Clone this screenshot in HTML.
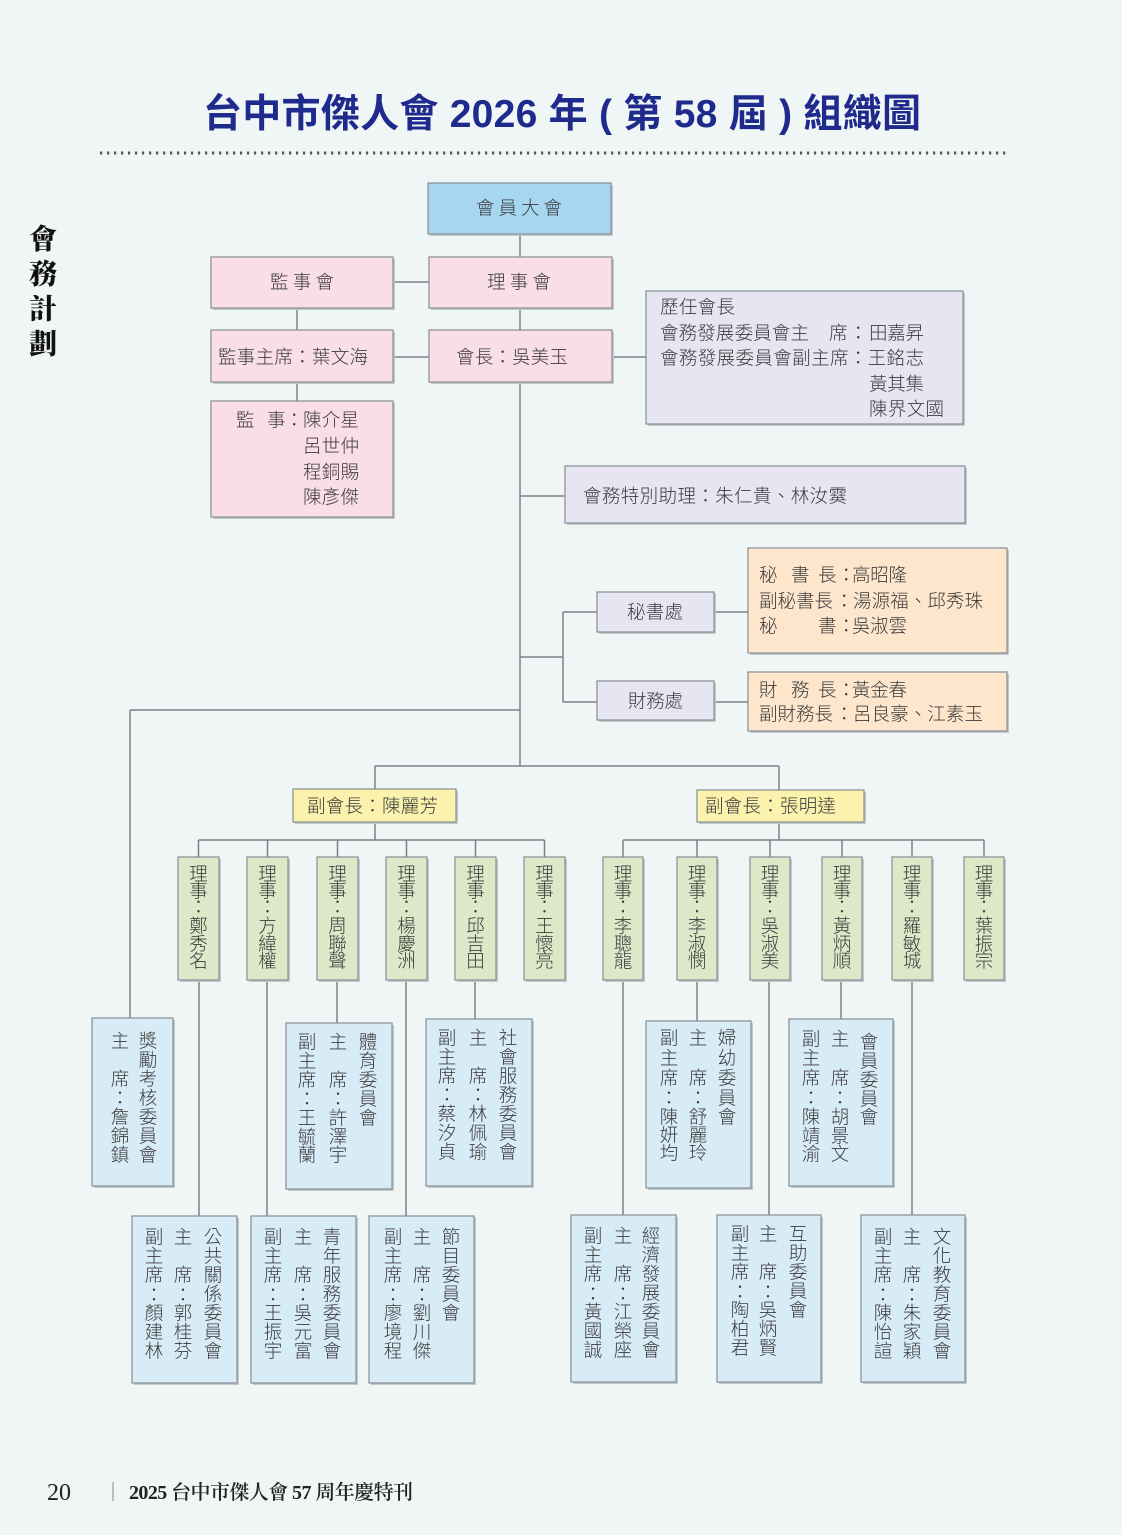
<!DOCTYPE html>
<html><head><meta charset="utf-8"><style>
html,body{margin:0;padding:0;background:#f0f5f6;}
svg{display:block;}
.t{font-family:"Liberation Sans","Noto Sans CJK TC",sans-serif;font-size:18.5px;fill:#3b3b3b;font-weight:300;dominant-baseline:central;}
.v{font-family:"Liberation Sans","Noto Sans CJK TC",sans-serif;font-size:18.5px;fill:#3b3b3b;font-weight:300;dominant-baseline:central;text-anchor:middle;}
.ln{stroke:#7b8186;stroke-width:1.5;fill:none;}
.bx{stroke:#868e93;stroke-width:1.2;}
.sh{fill:#c3c8cb;}
</style></head><body>
<svg width="1122" height="1535" viewBox="0 0 1122 1535" xmlns="http://www.w3.org/2000/svg">
<rect x="0" y="0" width="1122" height="1535" fill="#f0f5f6"/>

<!-- title -->
<text x="203" y="127" textLength="718" lengthAdjust="spacing" style="font-family:'Liberation Sans','Noto Sans CJK TC',sans-serif;font-size:39px;font-weight:700;fill:#1f2b8c;">台中市傑人會 2026 年 ( 第 58 屆 ) 組織圖</text>
<line x1="100" y1="153" x2="1006" y2="153" stroke="#555" stroke-width="3" stroke-dasharray="2.2 4.8"/>

<!-- side title -->
<g style="font-family:'Liberation Serif','Noto Serif CJK SC',serif;font-size:28px;font-weight:900;fill:#111;dominant-baseline:central;text-anchor:middle;">
<text x="43" y="240">會</text><text x="43" y="275">務</text><text x="43" y="310">計</text><text x="43" y="345">劃</text>
</g>

<!-- connectors -->
<g class="ln">
<line x1="520" y1="234" x2="520" y2="257"/>
<line x1="520" y1="308" x2="520" y2="330"/>
<line x1="520" y1="382" x2="520" y2="766"/>
<line x1="393" y1="282" x2="429" y2="282"/>
<line x1="297" y1="308" x2="297" y2="330"/>
<line x1="393" y1="357" x2="429" y2="357"/>
<line x1="297" y1="382" x2="297" y2="401"/>
<line x1="612" y1="357" x2="646" y2="357"/>
<line x1="520" y1="496" x2="565" y2="496"/>
<line x1="520" y1="657" x2="563" y2="657"/>
<line x1="563" y1="612" x2="563" y2="702"/>
<line x1="563" y1="612" x2="597" y2="612"/>
<line x1="563" y1="702" x2="597" y2="702"/>
<line x1="714" y1="612" x2="748" y2="612"/>
<line x1="714" y1="702" x2="748" y2="702"/>
<line x1="130" y1="710" x2="520" y2="710"/>
<line x1="130" y1="710" x2="130" y2="1018"/>
<line x1="375" y1="766" x2="779" y2="766"/>
<line x1="375" y1="766" x2="375" y2="789"/>
<line x1="779" y1="766" x2="779" y2="790"/>
<line x1="375" y1="822" x2="375" y2="840"/>
<line x1="779" y1="822" x2="779" y2="840"/>
<line x1="198.5" y1="840" x2="544.5" y2="840"/>
<line x1="623" y1="840" x2="984" y2="840"/>
<line x1="198.5" y1="840" x2="198.5" y2="857"/>
<line x1="267.5" y1="840" x2="267.5" y2="857"/>
<line x1="337.5" y1="840" x2="337.5" y2="857"/>
<line x1="406.5" y1="840" x2="406.5" y2="857"/>
<line x1="475.5" y1="840" x2="475.5" y2="857"/>
<line x1="544.5" y1="840" x2="544.5" y2="857"/>
<line x1="623" y1="840" x2="623" y2="857"/>
<line x1="697" y1="840" x2="697" y2="857"/>
<line x1="770" y1="840" x2="770" y2="857"/>
<line x1="842" y1="840" x2="842" y2="857"/>
<line x1="912" y1="840" x2="912" y2="857"/>
<line x1="984" y1="840" x2="984" y2="857"/>
<line x1="199" y1="980" x2="199" y2="1216"/>
<line x1="267" y1="980" x2="267" y2="1216"/>
<line x1="337" y1="980" x2="337" y2="1023"/>
<line x1="406" y1="980" x2="406" y2="1216"/>
<line x1="475" y1="980" x2="475" y2="1019"/>
<line x1="623" y1="980" x2="623" y2="1215"/>
<line x1="697" y1="980" x2="697" y2="1021"/>
<line x1="769" y1="980" x2="769" y2="1215"/>
<line x1="841" y1="980" x2="841" y2="1019"/>
<line x1="912" y1="980" x2="912" y2="1215"/>
</g>

<!-- top boxes -->
<rect class="sh" x="430" y="185" width="183" height="51"/>
<rect class="bx" x="428" y="183" width="183" height="51" fill="#a7d7f0"/>
<text class="t" x="476" y="208" textLength="86" lengthAdjust="spacing">會員大會</text>

<rect class="sh" x="213" y="259" width="182" height="51"/>
<rect class="bx" x="211" y="257" width="182" height="51" fill="#f9dde7"/>
<text class="t" x="270" y="282" textLength="64" lengthAdjust="spacing">監事會</text>

<rect class="sh" x="431" y="259" width="183" height="51"/>
<rect class="bx" x="429" y="257" width="183" height="51" fill="#f9dde7"/>
<text class="t" x="487" y="282" textLength="64" lengthAdjust="spacing">理事會</text>

<rect class="sh" x="213" y="332" width="182" height="52"/>
<rect class="bx" x="211" y="330" width="182" height="52" fill="#f9dde7"/>
<text class="t" x="218" y="357" textLength="150" lengthAdjust="spacing">監事主席：葉文海</text>

<rect class="sh" x="431" y="332" width="183" height="52"/>
<rect class="bx" x="429" y="330" width="183" height="52" fill="#f9dde7"/>
<text class="t" x="456" y="357" textLength="112" lengthAdjust="spacing">會長：吳美玉</text>

<rect class="sh" x="213" y="403" width="182" height="116"/>
<rect class="bx" x="211" y="401" width="182" height="116" fill="#f9dde7"/>
<text class="t" x="236" y="420">監</text>
<text class="t" x="267" y="420">事</text>
<text class="t" x="285" y="420">：</text>
<text class="t" x="303" y="420" textLength="56" lengthAdjust="spacing">陳介星</text>
<text class="t" x="303" y="446" textLength="56" lengthAdjust="spacing">呂世仲</text>
<text class="t" x="303" y="472" textLength="56" lengthAdjust="spacing">程銅賜</text>
<text class="t" x="303" y="497" textLength="56" lengthAdjust="spacing">陳彥傑</text>

<rect class="sh" x="648" y="293" width="317" height="133"/>
<rect class="bx" x="646" y="291" width="317" height="133" fill="#e7e5f2"/>
<text class="t" x="660" y="307" textLength="75" lengthAdjust="spacing">歷任會長</text>
<text class="t" x="660" y="333" textLength="149" lengthAdjust="spacing">會務發展委員會主</text>
<text class="t" x="829" y="333">席</text>
<text class="t" x="849" y="333">：</text>
<text class="t" x="869" y="333" textLength="55" lengthAdjust="spacing">田嘉昇</text>
<text class="t" x="660" y="358" textLength="264" lengthAdjust="spacing">會務發展委員會副主席：王銘志</text>
<text class="t" x="869" y="384" textLength="55" lengthAdjust="spacing">黃其集</text>
<text class="t" x="869" y="409" textLength="75" lengthAdjust="spacing">陳界文國</text>

<rect class="sh" x="567" y="468" width="400" height="57"/>
<rect class="bx" x="565" y="466" width="400" height="57" fill="#e7e5f2"/>
<text class="t" x="583" y="496" textLength="264" lengthAdjust="spacing">會務特別助理：朱仁貴、林汝霙</text>

<rect class="sh" x="599" y="594" width="117" height="40"/>
<rect class="bx" x="597" y="592" width="117" height="40" fill="#e7e5f2"/>
<text class="t" x="627" y="612" textLength="56" lengthAdjust="spacing">秘書處</text>

<rect class="sh" x="599" y="683" width="117" height="39"/>
<rect class="bx" x="597" y="681" width="117" height="39" fill="#e7e5f2"/>
<text class="t" x="628" y="701" textLength="55" lengthAdjust="spacing">財務處</text>

<rect class="sh" x="750" y="550" width="259" height="105"/>
<rect class="bx" x="748" y="548" width="259" height="105" fill="#fde6cc"/>
<text class="t" x="759" y="575">秘</text>
<text class="t" x="791" y="575">書</text>
<text class="t" x="818" y="575">長</text>
<text class="t" x="837" y="575">：</text>
<text class="t" x="852" y="575" textLength="55" lengthAdjust="spacing">高昭隆</text>
<text class="t" x="759" y="601" textLength="74" lengthAdjust="spacing">副秘書長</text>
<text class="t" x="835" y="601">：</text>
<text class="t" x="853" y="601" textLength="130" lengthAdjust="spacing">湯源福、邱秀珠</text>
<text class="t" x="759" y="626">秘</text>
<text class="t" x="818" y="626">書</text>
<text class="t" x="837" y="626">：</text>
<text class="t" x="852" y="626" textLength="55" lengthAdjust="spacing">吳淑雲</text>

<rect class="sh" x="750" y="674" width="259" height="59"/>
<rect class="bx" x="748" y="672" width="259" height="59" fill="#fde6cc"/>
<text class="t" x="759" y="690">財</text>
<text class="t" x="791" y="690">務</text>
<text class="t" x="818" y="690">長</text>
<text class="t" x="837" y="690">：</text>
<text class="t" x="852" y="690" textLength="55" lengthAdjust="spacing">黃金春</text>
<text class="t" x="759" y="714" textLength="74" lengthAdjust="spacing">副財務長</text>
<text class="t" x="835" y="714">：</text>
<text class="t" x="853" y="714" textLength="130" lengthAdjust="spacing">呂良豪、江素玉</text>

<!-- vice presidents -->
<rect class="sh" x="295" y="791" width="163" height="33"/>
<rect class="bx" x="293" y="789" width="163" height="33" fill="#fbf2ae"/>
<text class="t" x="307" y="806" textLength="131" lengthAdjust="spacing">副會長：陳麗芳</text>

<rect class="sh" x="699" y="792" width="167" height="32"/>
<rect class="bx" x="697" y="790" width="167" height="32" fill="#fbf2ae"/>
<text class="t" x="705" y="806" textLength="131" lengthAdjust="spacing">副會長：張明達</text>

<!-- directors -->
<g>
<rect class="sh" x="180" y="859" width="41" height="123"/><rect class="bx" x="178" y="857" width="41" height="123" fill="#dde8c8"/>
<rect class="sh" x="249" y="859" width="41" height="123"/><rect class="bx" x="247" y="857" width="41" height="123" fill="#dde8c8"/>
<rect class="sh" x="319" y="859" width="41" height="123"/><rect class="bx" x="317" y="857" width="41" height="123" fill="#dde8c8"/>
<rect class="sh" x="388" y="859" width="41" height="123"/><rect class="bx" x="386" y="857" width="41" height="123" fill="#dde8c8"/>
<rect class="sh" x="457" y="859" width="41" height="123"/><rect class="bx" x="455" y="857" width="41" height="123" fill="#dde8c8"/>
<rect class="sh" x="526" y="859" width="41" height="123"/><rect class="bx" x="524" y="857" width="41" height="123" fill="#dde8c8"/>
<rect class="sh" x="605" y="859" width="40" height="123"/><rect class="bx" x="603" y="857" width="40" height="123" fill="#dde8c8"/>
<rect class="sh" x="679" y="859" width="40" height="123"/><rect class="bx" x="677" y="857" width="40" height="123" fill="#dde8c8"/>
<rect class="sh" x="752" y="859" width="40" height="123"/><rect class="bx" x="750" y="857" width="40" height="123" fill="#dde8c8"/>
<rect class="sh" x="824" y="859" width="40" height="123"/><rect class="bx" x="822" y="857" width="40" height="123" fill="#dde8c8"/>
<rect class="sh" x="894" y="859" width="40" height="123"/><rect class="bx" x="892" y="857" width="40" height="123" fill="#dde8c8"/>
<rect class="sh" x="966" y="859" width="40" height="123"/><rect class="bx" x="964" y="857" width="40" height="123" fill="#dde8c8"/>
</g>
<g>
<text class="v" x="198.5 198.5 198.5 198.5 198.5 198.5" y="874 891 907 926 944 961">理事：鄭秀名</text>
<text class="v" x="267.5 267.5 267.5 267.5 267.5 267.5" y="874 891 907 926 944 961">理事：方緯權</text>
<text class="v" x="337.5 337.5 337.5 337.5 337.5 337.5" y="874 891 907 926 944 961">理事：周聯聲</text>
<text class="v" x="406.5 406.5 406.5 406.5 406.5 406.5" y="874 891 907 926 944 961">理事：楊慶洲</text>
<text class="v" x="475.5 475.5 475.5 475.5 475.5 475.5" y="874 891 907 926 944 961">理事：邱吉田</text>
<text class="v" x="544.5 544.5 544.5 544.5 544.5 544.5" y="874 891 907 926 944 961">理事：王懷亮</text>
<text class="v" x="623 623 623 623 623 623" y="874 891 907 926 944 961">理事：李聰龍</text>
<text class="v" x="697 697 697 697 697 697" y="874 891 907 926 944 961">理事：李淑憫</text>
<text class="v" x="770 770 770 770 770 770" y="874 891 907 926 944 961">理事：吳淑美</text>
<text class="v" x="842 842 842 842 842 842" y="874 891 907 926 944 961">理事：黃炳順</text>
<text class="v" x="912 912 912 912 912 912" y="874 891 907 926 944 961">理事：羅敏城</text>
<text class="v" x="984 984 984 984 984 984" y="874 891 907 926 944 961">理事：葉振宗</text>
</g>

<!-- committees row 1 -->
<rect class="sh" x="94" y="1020" width="81" height="168"/><rect class="bx" x="92" y="1018" width="81" height="168" fill="#d8ecf8"/>
<text class="v" x="148 148 148 148 148 148 148" y="1041 1060 1079 1098 1117 1136 1155">獎勵考核委員會</text>
<text class="v" x="120 120 120 120 120 120" y="1041 1079 1098 1117 1136 1155">主席：詹錦鎮</text>

<rect class="sh" x="288" y="1025" width="106" height="166"/><rect class="bx" x="286" y="1023" width="106" height="166" fill="#d8ecf8"/>
<text class="v" x="368 368 368 368 368" y="1042 1061 1080 1099 1118">體育委員會</text>
<text class="v" x="338 338 338 338 338 338" y="1042 1080 1099 1118 1137 1155">主席：許澤宇</text>
<text class="v" x="307 307 307 307 307 307 307" y="1042 1061 1080 1099 1118 1137 1155">副主席：王毓蘭</text>

<rect class="sh" x="428" y="1021" width="106" height="167"/><rect class="bx" x="426" y="1019" width="106" height="167" fill="#d8ecf8"/>
<text class="v" x="508 508 508 508 508 508 508" y="1038 1057 1076 1095 1114 1133 1152">社會服務委員會</text>
<text class="v" x="478 478 478 478 478 478" y="1038 1076 1095 1114 1133 1152">主席：林佩瑜</text>
<text class="v" x="447 447 447 447 447 447 447" y="1038 1057 1076 1095 1114 1133 1152">副主席：蔡汐貞</text>

<rect class="sh" x="648" y="1023" width="105" height="167"/><rect class="bx" x="646" y="1021" width="105" height="167" fill="#d8ecf8"/>
<text class="v" x="727 727 727 727 727" y="1038 1058 1078 1098 1117">婦幼委員會</text>
<text class="v" x="698 698 698 698 698 698" y="1038 1078 1098 1117 1135 1153">主席：舒麗玲</text>
<text class="v" x="669 669 669 669 669 669 669" y="1038 1058 1078 1098 1117 1135 1153">副主席：陳妍均</text>

<rect class="sh" x="791" y="1021" width="104" height="167"/><rect class="bx" x="789" y="1019" width="104" height="167" fill="#d8ecf8"/>
<text class="v" x="869 869 869 869 869" y="1042 1061 1080 1099 1117">會員委員會</text>
<text class="v" x="840 840 840 840 840 840" y="1039 1078 1098 1117 1136 1154">主席：胡景文</text>
<text class="v" x="811 811 811 811 811 811 811" y="1039 1058 1078 1098 1117 1136 1154">副主席：陳靖渝</text>

<!-- committees row 2 -->
<rect class="sh" x="134" y="1218" width="105" height="167"/><rect class="bx" x="132" y="1216" width="105" height="167" fill="#d8ecf8"/>
<text class="v" x="213 213 213 213 213 213 213" y="1237 1256 1275 1294 1313 1332 1351">公共關係委員會</text>
<text class="v" x="183 183 183 183 183 183" y="1237 1275 1295 1313 1332 1351">主席：郭桂芬</text>
<text class="v" x="154 154 154 154 154 154 154" y="1237 1256 1275 1295 1313 1332 1351">副主席：顏建林</text>

<rect class="sh" x="253" y="1218" width="105" height="167"/><rect class="bx" x="251" y="1216" width="105" height="167" fill="#d8ecf8"/>
<text class="v" x="332 332 332 332 332 332 332" y="1237 1256 1275 1294 1313 1332 1351">青年服務委員會</text>
<text class="v" x="303 303 303 303 303 303" y="1237 1275 1295 1313 1332 1351">主席：吳元富</text>
<text class="v" x="273 273 273 273 273 273 273" y="1237 1256 1275 1295 1313 1332 1351">副主席：王振宇</text>

<rect class="sh" x="371" y="1218" width="105" height="167"/><rect class="bx" x="369" y="1216" width="105" height="167" fill="#d8ecf8"/>
<text class="v" x="451 451 451 451 451" y="1237 1256 1275 1294 1313">節目委員會</text>
<text class="v" x="422 422 422 422 422 422" y="1237 1275 1295 1313 1332 1351">主席：劉川傑</text>
<text class="v" x="393 393 393 393 393 393 393" y="1237 1256 1275 1295 1313 1332 1351">副主席：廖境程</text>

<rect class="sh" x="573" y="1217" width="105" height="167"/><rect class="bx" x="571" y="1215" width="105" height="167" fill="#d8ecf8"/>
<text class="v" x="651 651 651 651 651 651 651" y="1236 1255 1274 1293 1312 1331 1350">經濟發展委員會</text>
<text class="v" x="623 623 623 623 623 623" y="1236 1274 1294 1312 1331 1350">主席：江榮座</text>
<text class="v" x="593 593 593 593 593 593 593" y="1236 1255 1274 1294 1312 1331 1350">副主席：黃國誠</text>

<rect class="sh" x="719" y="1217" width="104" height="167"/><rect class="bx" x="717" y="1215" width="104" height="167" fill="#d8ecf8"/>
<text class="v" x="798 798 798 798 798" y="1234 1253 1272 1291 1310">互助委員會</text>
<text class="v" x="768 768 768 768 768 768" y="1234 1272 1292 1310 1329 1348">主席：吳炳賢</text>
<text class="v" x="740 740 740 740 740 740 740" y="1234 1253 1272 1292 1310 1329 1348">副主席：陶柏君</text>

<rect class="sh" x="863" y="1217" width="104" height="167"/><rect class="bx" x="861" y="1215" width="104" height="167" fill="#d8ecf8"/>
<text class="v" x="942 942 942 942 942 942 942" y="1237 1256 1275 1294 1313 1332 1351">文化教育委員會</text>
<text class="v" x="912 912 912 912 912 912" y="1237 1275 1295 1313 1332 1351">主席：朱家穎</text>
<text class="v" x="883 883 883 883 883 883 883" y="1237 1256 1275 1295 1313 1332 1351">副主席：陳怡諠</text>

<!-- footer -->
<text x="47" y="1500" style="font-family:'Liberation Serif',serif;font-size:24px;fill:#222;">20</text>
<line x1="113" y1="1482" x2="113" y2="1501" stroke="#888" stroke-width="1"/>
<text x="129" y="1499" textLength="284" lengthAdjust="spacing" style="font-family:'Liberation Serif','Noto Serif CJK SC',serif;font-size:20px;font-weight:600;fill:#222;">2025 台中市傑人會 57 周年慶特刊</text>
</svg>
</body></html>
